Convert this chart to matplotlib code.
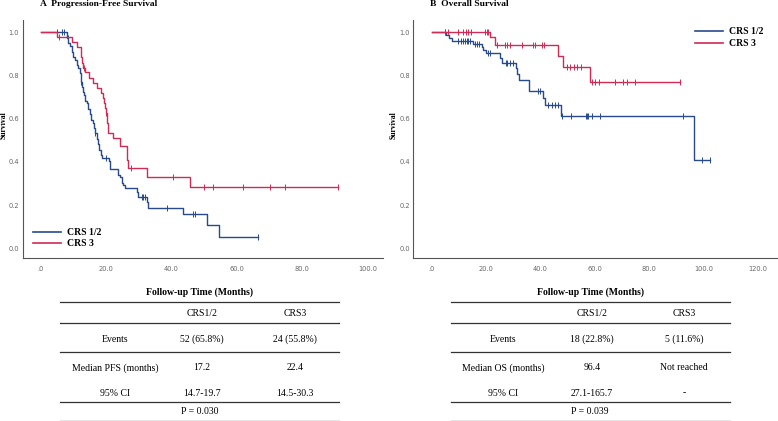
import numpy as np
import matplotlib
matplotlib.use("Agg")
import matplotlib.pyplot as plt
from matplotlib.lines import Line2D
from matplotlib.ticker import FuncFormatter

# ---- PFS (panel A) ----
pfs_crs12_t = [8.0, 8.5, 9.0, 9.5, 10.0, 10.5, 11.0, 11.5, 12.0, 12.3, 12.6, 13.0, 13.4, 13.7,
               14.1, 14.6, 15.1, 15.4, 15.9, 16.3, 16.7, 17.1, 17.6, 17.9, 18.5, 18.8, 21.0,
               21.2, 23.8, 24.3, 24.8, 25.3, 25.8, 29.5, 29.7, 32.4, 32.9, 43.6, 51.0, 54.6]
pfs_crs12_s = [0.975, 0.949, 0.937, 0.911, 0.886, 0.873, 0.848, 0.835, 0.810, 0.772, 0.747,
               0.722, 0.709, 0.684, 0.671, 0.646, 0.620, 0.595, 0.582, 0.557, 0.532, 0.506,
               0.481, 0.456, 0.430, 0.418, 0.405, 0.367, 0.341, 0.329, 0.304, 0.291, 0.278,
               0.262, 0.239, 0.212, 0.186, 0.159, 0.106, 0.053]
pfs_crs12_cens = [5.0, 6.4, 7.2, 8.4, 12.4, 16.7, 20.0, 30.9, 31.4, 31.9, 38.5, 46.7, 47.2, 66.4]

pfs_crs3_t = [5.1, 9.7, 11.0, 12.2, 12.6, 13.0, 13.6, 14.9, 16.1, 17.1, 18.3, 19.0, 19.3, 19.7,
              20.0, 20.2, 20.6, 22.0, 24.3, 26.3, 26.8, 32.4, 45.7]
pfs_crs3_s = [0.977, 0.953, 0.930, 0.884, 0.860, 0.837, 0.814, 0.790, 0.767, 0.744, 0.721,
              0.698, 0.674, 0.651, 0.627, 0.581, 0.535, 0.509, 0.472, 0.409, 0.371, 0.330, 0.283]
pfs_crs3_cens = [5.7, 13.1, 20.1, 27.6, 40.6, 49.9, 52.8, 62.0, 70.1, 74.7, 90.9]

# ---- OS (panel B) ----
os_crs12_t = [5.3, 6.5, 7.4, 15.1, 18.4, 19.0, 20.0, 25.1, 25.7, 31.0, 31.5, 32.1, 35.9, 40.8,
              41.7, 47.4, 96.4]
os_crs12_s = [0.987, 0.975, 0.962, 0.948, 0.933, 0.918, 0.903, 0.880, 0.859, 0.835, 0.808,
              0.781, 0.728, 0.695, 0.662, 0.613, 0.409]
os_crs12_cens = [4.9, 9.8, 10.6, 11.6, 12.3, 12.9, 13.5, 14.1, 15.9, 16.5, 17.2, 20.5, 21.4,
                 27.3, 27.8, 28.8, 30.0, 39.2, 39.8, 42.9, 44.1, 45.3, 46.6, 47.8, 51.1, 56.7,
                 57.2, 57.6, 58.8, 61.9, 92.5, 99.3, 102.3]

os_crs3_t = [21.4, 23.3, 46.5, 48.2, 58.1]
os_crs3_s = [0.976, 0.943, 0.890, 0.840, 0.772]
os_crs3_cens = [4.9, 5.9, 9.8, 11.3, 12.5, 13.5, 14.5, 19.6, 20.2, 20.8, 23.9, 27.0, 27.6, 28.8,
                33.1, 37.4, 38.0, 40.4, 41.1, 49.6, 50.9, 52.3, 53.6, 54.8, 58.8, 60.0, 61.6,
                67.4, 70.5, 71.7, 74.8, 91.3]

group_labels = ["CRS 1/2", "CRS 3"]

# ---- tables ----
table_cols = ["CRS1/2", "CRS3"]
pfs_rows = ["Events", "Median PFS (months)", "95% CI"]
pfs_cells = [["52 (65.8%)", "24 (55.8%)"], ["17.2", "22.4"], ["14.7-19.7", "14.5-30.3"]]
pfs_p = "P = 0.030"
os_rows = ["Events", "Median OS (months)", "95% CI"]
os_cells = [["18 (22.8%)", "5 (11.6%)"], ["96.4", "Not reached"], ["27.1-165.7", "-"]]
os_p = "P = 0.039"

BLUE = "#284a8c"
RED = "#d02a55"
W, H = 778.0, 421.0
serif = ["Liberation Serif", "DejaVu Serif"]
narrow = ["Liberation Sans Narrow", "DejaVu Sans"]


def km(ax, t, s, cens, color):
    end = max(max(cens), t[-1])
    x = [0.0] + list(t) + [end]
    y = [1.0] + list(s) + [s[-1]]
    ax.step(x, y, where="post", color=color, lw=1.0)
    ct = np.array(cens)
    idx = np.searchsorted(np.array(t), ct, side="right") - 1
    cy = np.where(idx < 0, 1.0, np.array(s)[np.clip(idx, 0, None)])
    ax.plot(ct, cy, ls="none", marker="|", ms=4, mew=0.7, color=color)


def style(ax, xlim, xticks):
    for sp in ["top", "right"]:
        ax.spines[sp].set_visible(False)
    for sp in ["left", "bottom"]:
        ax.spines[sp].set_color("#555555")
        ax.spines[sp].set_linewidth(0.8)
    ax.set_ylim(-0.045, 1.057)
    ax.set_xlim(xlim[0], xlim[1])
    ax.set_xticks(xticks)
    ax.set_yticks(np.arange(0, 1.01, 0.2))
    ax.xaxis.set_major_formatter(FuncFormatter(lambda v, p: ".0" if v == 0 else "%.1f" % v))
    ax.yaxis.set_major_formatter(FuncFormatter(lambda v, p: "%.1f" % v))
    ax.tick_params(length=0, labelsize=4.8, labelcolor="#666666")
    ax.tick_params(axis="x", pad=6)
    ax.tick_params(axis="y", pad=2.5)
    for lab in ax.get_xticklabels() + ax.get_yticklabels():
        lab.set_family(narrow)


def hline(x0, x1, y):
    fig.add_artist(Line2D([x0 / W, x1 / W], [1 - y / H, 1 - y / H],
                          color="#333333", lw=0.9))


def table(x0, x1, cx, rows, cells, ptxt):
    def txt(x, y, s, bold=False):
        fig.text(x / W, 1 - y / H, s, ha="center", va="center", fontsize=7,
                 family=serif, fontweight="bold" if bold else "normal")
    txt((x0 + x1) / 2, 292, "Follow-up Time (Months)", bold=True)
    for y in [302, 322.5, 352, 402, 420.5]:
        hline(x0, x1, y)
    txt(cx[1], 313, table_cols[0])
    txt(cx[2], 313, table_cols[1])
    for r, y in zip(range(3), [339, 368, 393]):
        txt(cx[0], y, rows[r])
        txt(cx[1], y, cells[r][0])
        txt(cx[2], y, cells[r][1])
    txt(cx[1] - 2, 411.5, ptxt)


fig = plt.figure(figsize=(W / 100, H / 100), dpi=100)
ax1 = fig.add_axes([22.7 / W, 1 - 258 / H, 360.6 / W, 238 / H])
ax2 = fig.add_axes([413.3 / W, 1 - 258 / H, 363.7 / W, 238 / H])

km(ax1, pfs_crs12_t, pfs_crs12_s, pfs_crs12_cens, BLUE)
km(ax1, pfs_crs3_t, pfs_crs3_s, pfs_crs3_cens, RED)
km(ax2, os_crs12_t, os_crs12_s, os_crs12_cens, BLUE)
km(ax2, os_crs3_t, os_crs3_s, os_crs3_cens, RED)

style(ax1, (-5.5, 104.8), np.arange(0, 101, 20))
style(ax2, (-6.8, 127), np.arange(0, 121, 20))

handles = [Line2D([], [], color=BLUE, lw=1.2), Line2D([], [], color=RED, lw=1.2)]
leg_font = {"family": serif, "weight": "bold", "size": 7}
fig.legend(handles, group_labels, loc="upper left", bbox_to_anchor=(33 / W, 1 - 228 / H),
           frameon=False, prop=leg_font, handlelength=2.9, handletextpad=0.6,
           labelspacing=0.25, borderpad=0, borderaxespad=0)
fig.legend(handles, group_labels, loc="upper left", bbox_to_anchor=(695 / W, 1 - 27.5 / H),
           frameon=False, prop=leg_font, handlelength=2.9, handletextpad=0.6,
           labelspacing=0.25, borderpad=0, borderaxespad=0)

fig.text(40 / W, 1 - 4.5 / H, "A  Progression-Free Survival", fontsize=6.8, family=serif,
         fontweight="bold", va="center", ha="left")
fig.text(430 / W, 1 - 4.5 / H, "B  Overall Survival", fontsize=6.8, family=serif,
         fontweight="bold", va="center", ha="left")
for x in [4, 394]:
    fig.text(x / W, 1 - 125 / H, "Survival", fontsize=5.5, family=serif, fontweight="bold",
             rotation=90, va="center", ha="center")

table(60, 339, [115, 202, 295], pfs_rows, pfs_cells, pfs_p)
table(451, 730, [503, 592, 684], os_rows, os_cells, os_p)

plt.savefig("out.png", dpi=100)
